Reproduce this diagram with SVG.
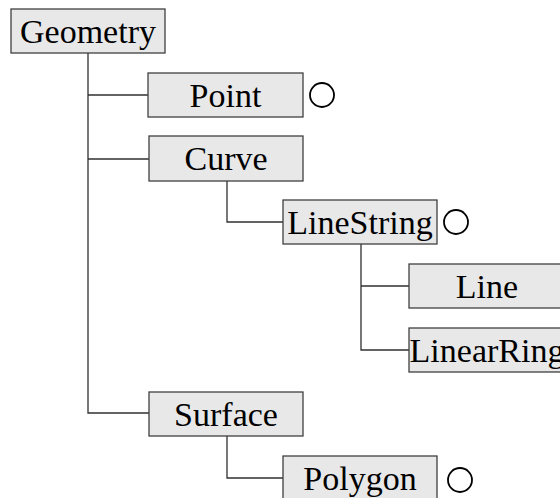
<svg xmlns="http://www.w3.org/2000/svg" width="560" height="498" viewBox="0 0 560 498">
<style>
.box{fill:#e8e8e8;stroke:#404040;stroke-width:1.3}
.lbl{font-family:"Liberation Serif","Times New Roman",serif;font-size:34px;fill:#000;text-anchor:middle}
.ring{fill:none;stroke:#000;stroke-width:1.8}
.conn{fill:none;stroke:#303030;stroke-width:1.3}
</style>
<rect width="560" height="498" fill="#fff"/>
<g id="connectors" class="conn">
<path d="M88,53 V413 H149 M88,95 H148 M88,159 H149"/>
<path d="M227,181 V222 H283"/>
<path d="M361,244 V350 H409 M361,286 H409"/>
<path d="M227,436 V478 H283"/>
</g>
<g id="geometry"><rect class="box" x="11" y="9" width="154" height="44"/><text class="lbl" x="88" y="43">Geometry</text></g>
<g id="point"><rect class="box" x="148" y="73" width="155" height="44"/><text class="lbl" x="225.5" y="107">Point</text><circle class="ring" cx="322" cy="95" r="12"/></g>
<g id="curve"><rect class="box" x="149" y="136" width="154" height="45"/><text class="lbl" x="226" y="170">Curve</text></g>
<g id="linestring"><rect class="box" x="283" y="200" width="154" height="44"/><text class="lbl" x="360" y="234">LineString</text><circle class="ring" cx="456" cy="222" r="12"/></g>
<g id="line"><rect class="box" x="409" y="264" width="156" height="44"/><text class="lbl" x="487" y="298">Line</text></g>
<g id="linearring"><rect class="box" x="409" y="328" width="156" height="44"/><text class="lbl" x="487" y="362">LinearRing</text></g>
<g id="surface"><rect class="box" x="149" y="392" width="154" height="44"/><text class="lbl" x="226" y="426">Surface</text></g>
<g id="polygon"><rect class="box" x="283" y="456" width="154" height="44"/><text class="lbl" x="360" y="490">Polygon</text><circle class="ring" cx="460" cy="480" r="12"/></g>
</svg>
